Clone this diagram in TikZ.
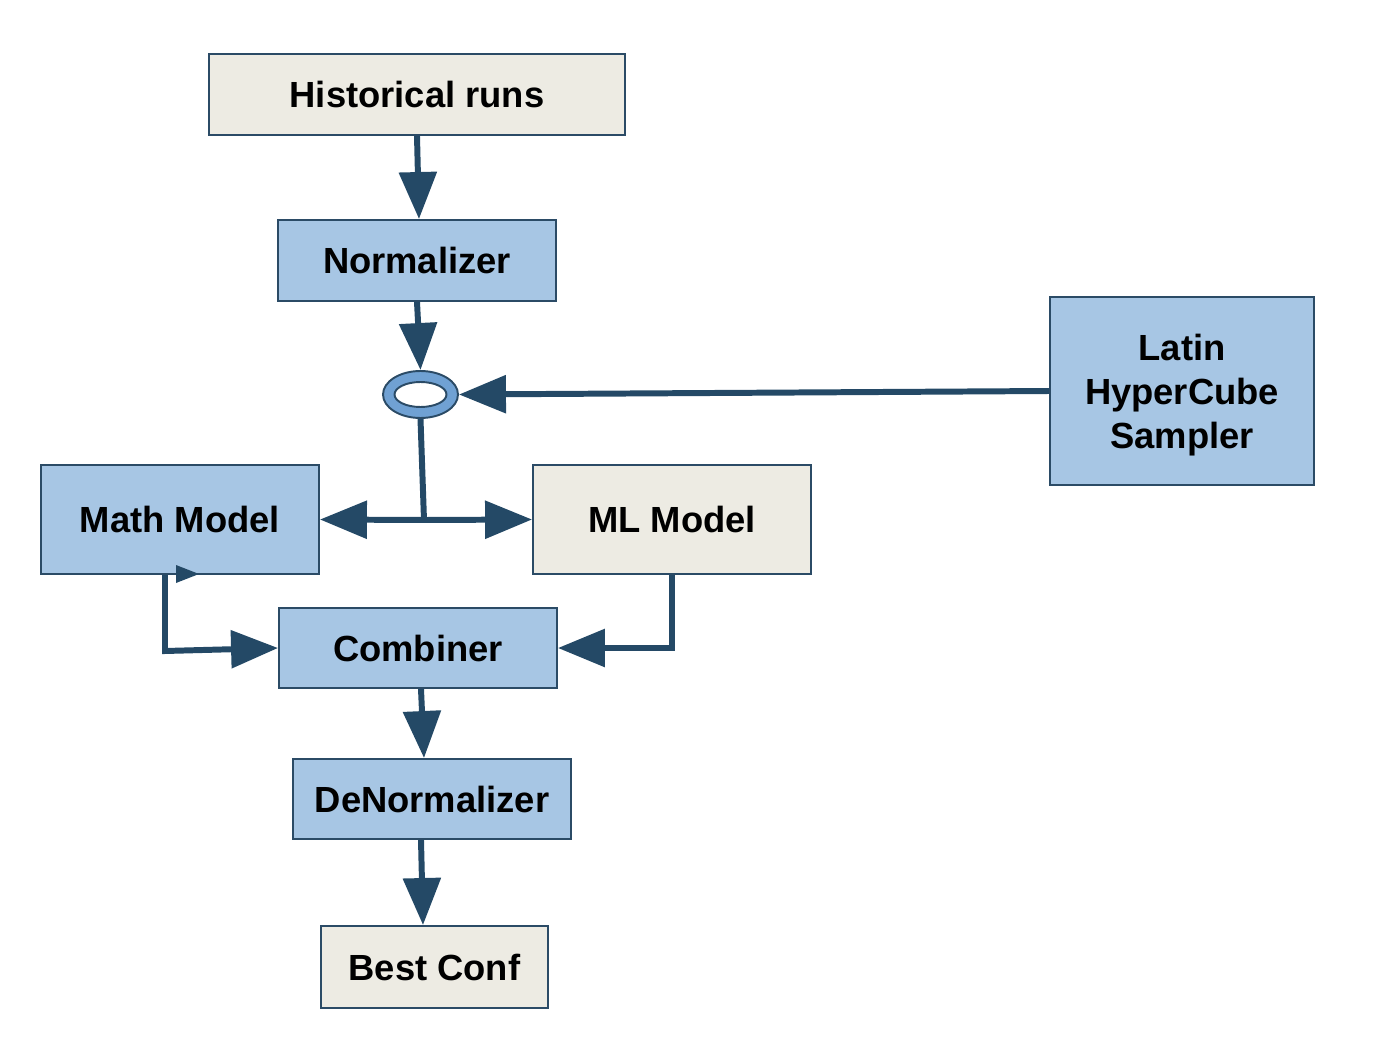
\documentclass[tikz,border=0pt]{standalone}
\usepackage{fontspec}
\setmainfont{Liberation Sans}
\usetikzlibrary{arrows.meta,shapes.geometric}
\definecolor{lblue}{RGB}{167,198,228}
\definecolor{beige}{RGB}{237,235,227}
\definecolor{edge}{RGB}{43,75,102}
\definecolor{arr}{RGB}{36,73,102}
\definecolor{ellfill}{RGB}{112,161,211}
\tikzset{
  box/.style={draw=edge, line width=1.1pt, inner sep=0pt, align=center,
    font=\fontsize{20.7}{25}\selectfont\bfseries, text=black},
  bluebox/.style={box, fill=lblue},
  beigebox/.style={box, fill=beige},
  conn/.style={draw=arr, line width=3.4pt,
    -{Triangle[length=0.94cm, width=0.74cm]}},
  plain/.style={draw=arr, line width=3.4pt},
}
\begin{document}
\begin{tikzpicture}[x=0.02cm,y=-0.02cm]
\useasboundingbox (0,0) rectangle (1374,1048);
\node[beigebox, minimum width=8.32cm, minimum height=1.62cm] (hist) at (417,94.5) {Historical runs};
\node[bluebox, minimum width=5.56cm, minimum height=1.62cm] (norm) at (417,260.5) {Normalizer};
\node[bluebox, minimum width=5.28cm, minimum height=3.76cm, text depth=0pt] (lhs) at (1182,391) {};
\node[font=\fontsize{20.7}{25}\selectfont\bfseries, align=center, inner sep=0pt] (lhstext) at (1182,395) {Latin\\HyperCube\\Sampler};
\node[bluebox, minimum width=5.56cm, minimum height=2.18cm] (math) at (180,519.5) {Math Model};
\node[beigebox, minimum width=5.56cm, minimum height=2.18cm] (ml) at (672,519.5) {ML Model};
\node[bluebox, minimum width=5.56cm, minimum height=1.60cm] (comb) at (418,648) {Combiner};
\node[bluebox, minimum width=5.56cm, minimum height=1.60cm] (denorm) at (432,799) {DeNormalizer};
\node[beigebox, minimum width=4.54cm, minimum height=1.64cm] (best) at (434.5,967) {Best Conf};
% junction ellipse
\node[draw=edge, line width=1.1pt, fill=ellfill, ellipse, minimum width=1.5cm, minimum height=0.94cm, inner sep=0pt] (ell) at (420.5,394.5) {};
\node[draw=edge, line width=1.1pt, fill=white, ellipse, minimum width=1.04cm, minimum height=0.5cm, inner sep=0pt] (ellin) at (420.5,394.5) {};
\coordinate (j) at (424,520);
\coordinate (mathdown) at (165,651);
\coordinate (mldown) at (672,648);
% connectors
\draw[conn] (hist.south) -- (norm.north -| 419,0);
\draw[conn] (norm.south) -- (ell.north);
\draw[conn] (lhs.west) -- (ell.east);
\draw[plain] (ell.south) -- (j);
\draw[conn] (j) -- (math.east);
\draw[conn] (j) -- (ml.west);
\draw[conn] (math.south -| mathdown) -- (mathdown) -- (comb.west);
\draw[conn] (ml.south -| mldown) -- (mldown) -- (comb.east);
\draw[conn] (comb.south -| 421,0) -- (denorm.north -| 424,0);
\draw[conn] (denorm.south -| 421,0) -- (best.north -| 423,0);
% small tip on Math Model bottom edge
\fill[arr] (176,565) -- (199,574) -- (176,583) -- cycle;
\end{tikzpicture}
\end{document}
